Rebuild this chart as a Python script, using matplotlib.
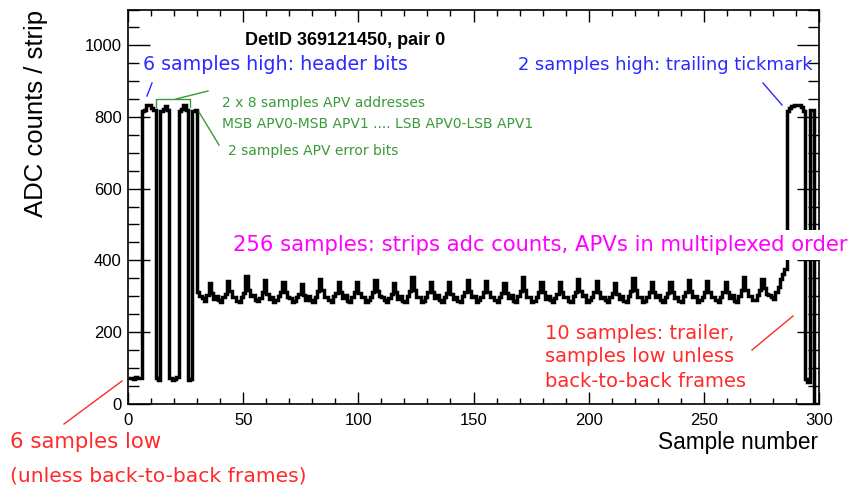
import numpy as np
import matplotlib
matplotlib.use("Agg")
import matplotlib.pyplot as plt
from matplotlib.lines import Line2D

W, H = 851, 488

# digital header part of the frame (samples 0-29)
low_start = [72, 70, 68, 75, 70, 72]
header_high = [818, 820, 832, 834, 824, 820]
addr_0 = [70, 66]
addr_1 = [818, 822, 830, 820]
addr_2 = [72, 66, 68, 74]
addr_3 = [818, 822, 832, 820]
addr_4 = [66, 68]
error_bits = [818, 820]

# 256 analog samples (30-285), one row per 8 samples
analog = [
    312, 300, 294, 286, 304, 336, 308, 292,
    300, 288, 284, 296, 306, 342, 314, 298,
    296, 286, 282, 298, 308, 356, 318, 300,
    302, 290, 286, 294, 310, 344, 306, 292,
    298, 284, 288, 300, 312, 338, 310, 296,
    294, 282, 286, 298, 306, 334, 302, 290,
    300, 288, 284, 296, 314, 348, 316, 298,
    296, 290, 282, 300, 308, 340, 312, 294,
    302, 286, 284, 298, 312, 338, 308, 296,
    298, 284, 288, 296, 310, 344, 314, 300,
    296, 288, 282, 294, 306, 336, 310, 292,
    300, 286, 284, 300, 314, 352, 318, 296,
    298, 282, 286, 298, 310, 340, 312, 294,
    302, 290, 284, 296, 308, 338, 306, 292,
    296, 286, 282, 300, 312, 346, 314, 298,
    300, 284, 288, 298, 310, 342, 310, 296,
    298, 288, 284, 296, 308, 336, 308, 294,
    302, 286, 282, 300, 314, 354, 316, 298,
    296, 284, 286, 298, 310, 340, 312, 292,
    300, 290, 284, 294, 306, 338, 310, 296,
    298, 286, 282, 300, 312, 348, 314, 300,
    302, 284, 288, 298, 310, 342, 312, 294,
    296, 288, 284, 296, 308, 336, 306, 292,
    300, 286, 282, 300, 314, 350, 318, 298,
    298, 282, 286, 298, 310, 340, 312, 296,
    302, 290, 284, 296, 308, 338, 310, 294,
    296, 286, 282, 300, 312, 346, 314, 298,
    300, 284, 288, 298, 310, 342, 312, 296,
    298, 288, 284, 296, 310, 338, 310, 294,
    302, 286, 284, 300, 316, 352, 318, 300,
    300, 290, 288, 304, 318, 348, 322, 306,
    304, 296, 292, 310, 324, 348, 362, 376,
]

# trailer (samples 286-299)
tick_high = [818, 824, 830, 834, 834, 832, 828, 818]
trailer_low = [68, 60]
next_high = [820, 820]
empty = [0, 0]

counts = (low_start + header_high + addr_0 + addr_1 + addr_2 + addr_3
          + addr_4 + error_bits + analog + tick_high + trailer_low
          + next_high + empty)
edges = np.arange(len(counts) + 1)

x_ticks = [0, 50, 100, 150, 200, 250, 300]
y_ticks = [0, 200, 400, 600, 800, 1000]


def px(x, y):
    return x / W, 1 - y / H


fig = plt.figure(figsize=(W / 100, H / 100), dpi=100)
ax = fig.add_axes([128 / W, 1 - 403.5 / H, 691 / W, 394 / H])

ax.stairs(counts, edges, color="black", lw=2.5, baseline=None)
ax.set_xlim(0, 300)
ax.set_ylim(0, 1100)

ax.set_xticks(x_ticks)
ax.set_xticks(np.arange(0, 301, 10), minor=True)
ax.set_yticks(y_ticks)
ax.set_yticks(np.arange(0, 1101, 50), minor=True)
ax.tick_params(which="both", direction="in", top=True, right=True, width=1)
ax.tick_params(axis="x", which="major", length=8.6, pad=6.5)
ax.tick_params(axis="x", which="minor", length=4.3)
ax.tick_params(axis="y", which="major", length=15.8, pad=4.5)
ax.tick_params(axis="y", which="minor", length=7.9)
for lab in ax.get_xticklabels() + ax.get_yticklabels():
    lab.set_fontfamily("Liberation Sans")
    lab.set_fontsize(12)
for sp in ax.spines.values():
    sp.set_linewidth(1.2)

sans = "Liberation Sans"
dv = "DejaVu Sans"
blue = "#2a2aff"
red = "#ff2a2a"
green = "#3a9a3a"
magenta = "#ff00ff"

fig.text(*px(345, 45), "DetID 369121450, pair 0", ha="center", va="baseline",
         fontsize=13, fontweight="bold", family=sans)
fig.text(*px(818, 443), "Sample number", ha="right", va="center",
         fontsize=16.3, family=sans)
fig.text(*px(36, 10), "ADC counts / strip", ha="center", va="top",
         rotation=90, fontsize=18.5, family=sans)

fig.text(*px(143, 70), "6 samples high: header bits", color=blue,
         fontsize=13.7, family=dv, va="baseline")
fig.text(*px(518, 70), "2 samples high: trailing tickmark", color=blue,
         fontsize=12.9, family=dv, va="baseline")

fig.text(*px(222, 107), "2 x 8 samples APV addresses", color=green,
         fontsize=10, family=dv, va="baseline")
fig.text(*px(222, 128), "MSB APV0-MSB APV1 .... LSB APV0-LSB APV1",
         color=green, fontsize=10, family=dv, va="baseline")
fig.text(*px(228, 155), "2 samples APV error bits", color=green,
         fontsize=10, family=dv, va="baseline")

fig.text(*px(10, 448), "6 samples low", color=red, fontsize=15.3,
         family=dv, va="baseline")
fig.text(*px(10, 481), "(unless back-to-back frames)", color=red,
         fontsize=14.6, family=dv, va="baseline")
fig.text(*px(545, 339), "10 samples: trailer,", color=red, fontsize=14,
         family=dv, va="baseline")
fig.text(*px(545, 362), "samples low unless", color=red, fontsize=14,
         family=dv, va="baseline")
fig.text(*px(545, 387), "back-to-back frames", color=red, fontsize=14,
         family=dv, va="baseline")

fig.text(*px(233, 251), "256 samples: strips adc counts, APVs in multiplexed order",
         color=magenta, fontsize=15.2, family=dv, va="baseline", zorder=10,
         bbox=dict(facecolor="white", edgecolor="none", pad=4))

segs = [
    (blue, [147, 152], [96, 83]),
    (blue, [763, 782], [83, 105]),
    (green, [156, 156, 190, 190], [107, 99, 99, 107]),
    (green, [176, 208], [99, 91]),
    (green, [199, 219], [112, 145]),
    (red, [64, 122], [424, 381]),
    (red, [752, 793], [350, 316]),
]
for color, xs, ys in segs:
    fig.add_artist(Line2D([x / W for x in xs], [1 - y / H for y in ys],
                          color=color, lw=1, transform=fig.transFigure))

fig.savefig("out.png", dpi=100)
